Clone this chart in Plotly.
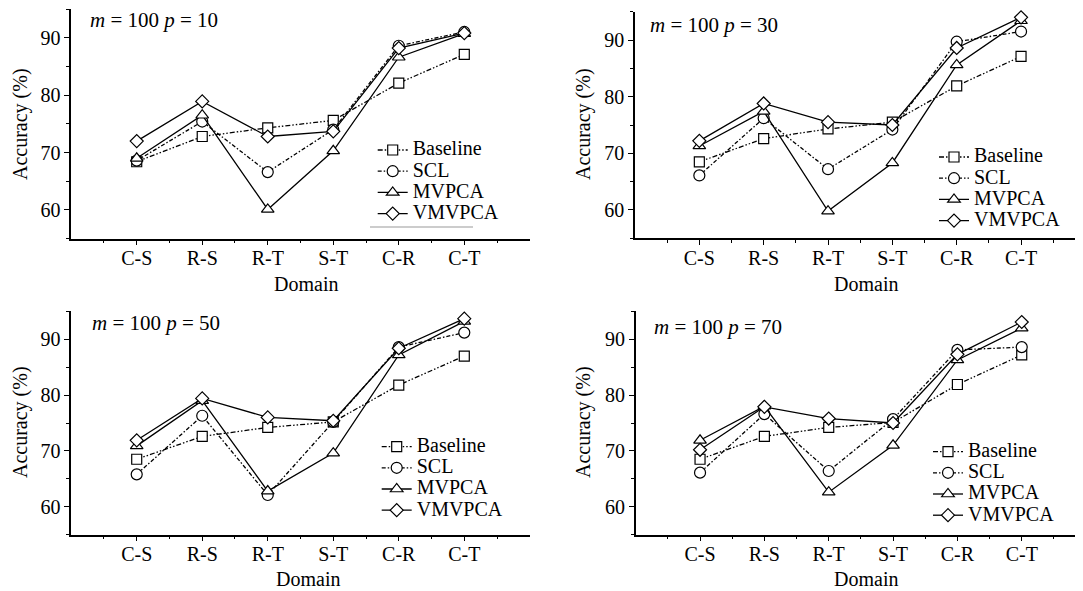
import plotly.graph_objects as go

# Page body has an 8px default margin, so pixel targets are offset by OFF
OFF = 8
W, H = 1083 - OFF, 591 - OFF

categories = ["C-S", "R-S", "R-T", "S-T", "C-R", "C-T"]
series_names = ["Baseline", "SCL", "MVPCA", "VMVPCA"]
p_values = [10, 30, 50, 70]

baseline_p10 = [68.4, 72.8, 74.3, 75.6, 82.1, 87.1]
scl_p10 = [68.6, 75.4, 66.6, 74.0, 88.6, 91.0]
mvpca_p10 = [69.0, 76.5, 60.1, 70.3, 86.6, 90.7]
vmvpca_p10 = [72.0, 78.9, 72.8, 73.7, 88.2, 90.8]

baseline_p30 = [68.5, 72.6, 74.3, 75.5, 81.9, 87.1]
scl_p30 = [66.1, 76.2, 67.2, 74.2, 89.7, 91.5]
mvpca_p30 = [71.3, 77.4, 59.8, 68.3, 85.6, 93.4]
vmvpca_p30 = [72.2, 78.8, 75.5, 75.0, 88.6, 94.0]

baseline_p50 = [68.5, 72.6, 74.2, 75.2, 81.8, 87.0]
scl_p50 = [65.8, 76.3, 62.1, 75.2, 88.6, 91.2]
mvpca_p50 = [70.9, 79.0, 62.8, 69.6, 87.2, 93.2]
vmvpca_p50 = [71.9, 79.4, 76.0, 75.4, 88.4, 93.7]

baseline_p70 = [68.5, 72.6, 74.2, 75.1, 81.9, 87.2]
scl_p70 = [66.1, 76.6, 66.4, 75.7, 88.1, 88.6]
mvpca_p70 = [71.9, 78.0, 62.6, 71.0, 86.3, 92.0]
vmvpca_p70 = [70.2, 77.9, 75.8, 75.0, 87.3, 93.1]

y_ticks = [60, 70, 80, 90]

panels = [
    [baseline_p10, scl_p10, mvpca_p10, vmvpca_p10],
    [baseline_p30, scl_p30, mvpca_p30, vmvpca_p30],
    [baseline_p50, scl_p50, mvpca_p50, vmvpca_p50],
    [baseline_p70, scl_p70, mvpca_p70, vmvpca_p70],
]

FONT = "Liberation Serif, Times New Roman, serif"
styles = [
    dict(symbol="square", size=10, dash="5px,2px,1.5px,2px,1.5px,2px"),
    dict(symbol="circle", size=11, dash="4px,2px,1.5px,2px"),
    dict(symbol="triangle-up", size=11, dash="solid"),
    dict(symbol="diamond", size=10, dash="solid"),
]


def px_x(v):
    return (v - OFF) / W


def px_y(v):
    return 1 - (v - OFF) / H


# screen-pixel geometry of each panel: (x0, x1, y_top, y_bottom)
geom = [
    (71.2, 529.8, 9.0, 238.7),
    (635.0, 1083.0, 11.7, 238.3),
    (71.2, 529.8, 311.4, 534.6),
    (635.7, 1083.0, 311.4, 534.6),
]
xr_max = [7, (1083 - 635.0) / 64.34, 7, (1083 - 635.7) / 64.34]

legend_origin = [(372.7, 134.4), (934, 141.4), (376.7, 431), (928, 436)]
label_pos = [(88, 20), (648, 25), (90, 323), (652, 327)]
ytitle_pos = [(20, 124), (583, 124), (20, 422), (583, 422)]
xtitle_pos = [(306, 284), (866, 284), (308, 579), (866, 579)]

fig = go.Figure()
xs = list(range(1, len(categories) + 1))

layout = {}
annotations = []
for i, data in enumerate(panels):
    k = "" if i == 0 else str(i + 1)
    leg = "legend" + k
    for j, vals in enumerate(data):
        st = styles[j]
        fig.add_trace(go.Scatter(
            x=xs, y=vals,
            name='<span style="font-size:20px">%s</span>' % series_names[j],
            mode="lines+markers",
            xaxis="x" + k, yaxis="y" + k, legend=leg,
            line=dict(color="black", width=1.3, dash=st["dash"]),
            marker=dict(symbol=st["symbol"], size=st["size"], color="white",
                        line=dict(color="black", width=1.2)),
            cliponaxis=False,
        ))
    x0, x1, yt, yb = geom[i]
    layout["xaxis" + k] = dict(
        domain=[px_x(x0), min(1.0, px_x(x1))], range=[0, xr_max[i]], anchor="y" + k,
        tickvals=xs, ticktext=categories, showgrid=False, zeroline=False,
        showline=True, linecolor="black", linewidth=1.5,
        ticks="outside", ticklen=5, tickwidth=1.2, tickcolor="black",
        ticklabelstandoff=-4,
        minor=dict(tickvals=[0.5 + t for t in range(0, 8)], ticks="outside",
                   ticklen=3, tickcolor="black", tickwidth=1),
        tickfont=dict(family=FONT, size=20, color="black"),
    )
    layout["yaxis" + k] = dict(
        domain=[px_y(yb), px_y(yt)], range=[55, 95], anchor="x" + k,
        tickvals=y_ticks, showgrid=False, zeroline=False,
        showline=True, linecolor="black", linewidth=1.5,
        ticks="outside", ticklen=5, tickwidth=1.2, tickcolor="black",
        minor=dict(tickvals=[55, 65, 75, 85, 95], ticks="outside", ticklen=3,
                   tickcolor="black", tickwidth=1),
        tickfont=dict(family=FONT, size=20, color="black"),
    )
    lx, ly = legend_origin[i]
    layout[leg] = dict(
        x=px_x(lx), y=px_y(ly), xanchor="left", yanchor="top",
        bgcolor="rgba(0,0,0,0)", borderwidth=0,
        font=dict(family=FONT, size=14, color="black"),
        itemwidth=30, tracegroupgap=0,
    )
    px_, py_ = label_pos[i]
    annotations.append(dict(
        text="<i>m</i> = 100 <i>p</i> = %d" % p_values[i],
        x=px_x(px_), y=px_y(py_), xref="paper", yref="paper",
        xanchor="left", yanchor="middle", showarrow=False,
        font=dict(family=FONT, size=21, color="black"),
    ))
    tx, ty = ytitle_pos[i]
    annotations.append(dict(
        text="Accuracy (%)", textangle=-90,
        x=px_x(tx), y=px_y(ty), xref="paper", yref="paper",
        xanchor="center", yanchor="middle", showarrow=False,
        font=dict(family=FONT, size=20, color="black"),
    ))
    dx, dy = xtitle_pos[i]
    annotations.append(dict(
        text="Domain", x=px_x(dx), y=px_y(dy), xref="paper", yref="paper",
        xanchor="center", yanchor="middle", showarrow=False,
        font=dict(family=FONT, size=20, color="black"),
    ))

fig.update_layout(
    width=W, height=H, margin=dict(l=0, r=0, t=0, b=0),
    paper_bgcolor="white", plot_bgcolor="white",
    showlegend=True, annotations=annotations,
    shapes=[dict(type="line", xref="paper", yref="paper",
                 x0=px_x(370), x1=px_x(473), y0=px_y(227), y1=px_y(227),
                 line=dict(color="#999999", width=1))],
    **layout,
)

fig.write_html("out.html")
